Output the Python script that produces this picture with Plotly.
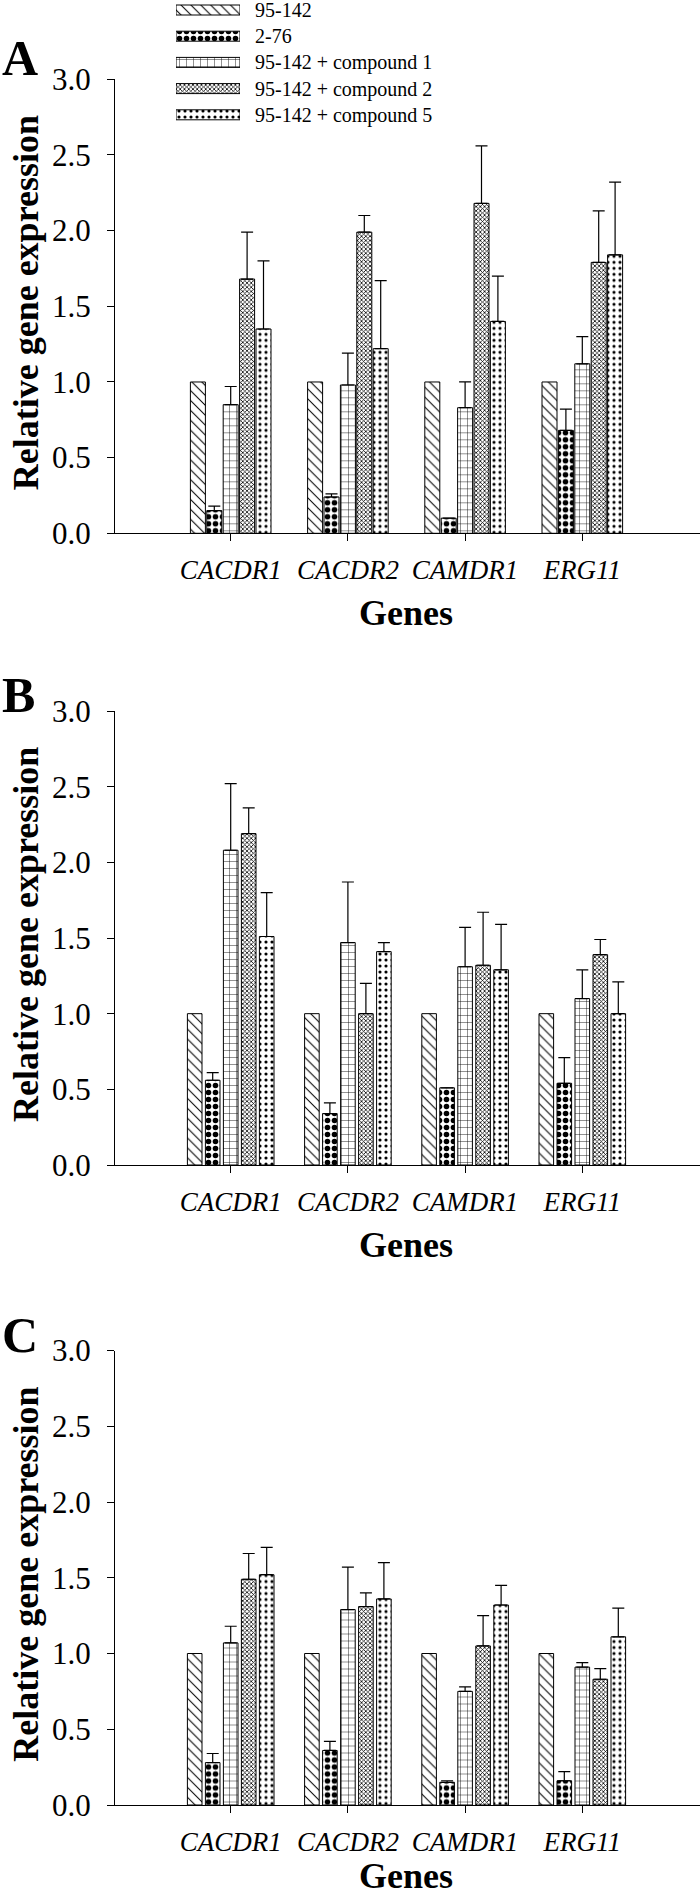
import plotly.graph_objects as go

# ---------------- data ----------------
genes = ["CACDR1", "CACDR2", "CAMDR1", "ERG11"]
series = ["95-142", "2-76", "95-142 + compound 1", "95-142 + compound 2", "95-142 + compound 5"]

# Panel A
A_95142 = [1.00, 1.00, 1.00, 1.00]
A_276 = [0.15, 0.24, 0.10, 0.68]
A_c1 = [0.85, 0.98, 0.83, 1.12]
A_c2 = [1.68, 1.99, 2.18, 1.79]
A_c5 = [1.35, 1.22, 1.40, 1.84]
A_err_276 = [0.03, 0.02, 0.00, 0.14]
A_err_c1 = [0.12, 0.21, 0.17, 0.18]
A_err_c2 = [0.31, 0.11, 0.38, 0.34]
A_err_c5 = [0.45, 0.45, 0.30, 0.48]

# Panel B
B_95142 = [1.00, 1.00, 1.00, 1.00]
B_276 = [0.56, 0.34, 0.51, 0.54]
B_c1 = [2.08, 1.47, 1.31, 1.10]
B_c2 = [2.19, 1.00, 1.32, 1.39]
B_c5 = [1.51, 1.41, 1.29, 1.00]
B_err_276 = [0.05, 0.07, 0.00, 0.17]
B_err_c1 = [0.44, 0.40, 0.26, 0.19]
B_err_c2 = [0.17, 0.20, 0.35, 0.10]
B_err_c5 = [0.29, 0.06, 0.30, 0.21]

# Panel C
C_95142 = [1.00, 1.00, 1.00, 1.00]
C_276 = [0.28, 0.36, 0.15, 0.16]
C_c1 = [1.07, 1.29, 0.75, 0.91]
C_c2 = [1.49, 1.31, 1.05, 0.83]
C_c5 = [1.52, 1.36, 1.32, 1.11]
C_err_276 = [0.06, 0.06, 0.01, 0.06]
C_err_c1 = [0.11, 0.28, 0.03, 0.03]
C_err_c2 = [0.17, 0.09, 0.20, 0.07]
C_err_c5 = [0.18, 0.24, 0.13, 0.19]

yticks = [0.0, 0.5, 1.0, 1.5, 2.0, 2.5, 3.0]

# ---------------- styling ----------------
W, H = 700, 1899
SERIF = "Liberation Serif"
patterns = [
    dict(shape="\\", size=7, solidity=0.15),
    dict(shape=".", size=7, solidity=0.5),
    dict(shape="+", size=7, solidity=0.12),
    dict(shape="x", size=3, solidity=0.45),
    dict(shape=".", size=6, solidity=0.22),
]

def py(px):
    return 1 - px / H

panels = [
    dict(name="A", vals=[A_95142, A_276, A_c1, A_c2, A_c5],
         errs=[None, A_err_276, A_err_c1, A_err_c2, A_err_c5],
         top=79.3, bot=533.3, pitch_px=16.4, bw_px=15.0, letter_drop=9, genes_drop=80),
    dict(name="B", vals=[B_95142, B_276, B_c1, B_c2, B_c5],
         errs=[None, B_err_276, B_err_c1, B_err_c2, B_err_c5],
         top=711.0, bot=1165.0, pitch_px=18.0, bw_px=14.6, letter_drop=14, genes_drop=80),
    dict(name="C", vals=[C_95142, C_276, C_c1, C_c2, C_c5],
         errs=[None, C_err_276, C_err_c1, C_err_c2, C_err_c5],
         top=1350.5, bot=1805.0, pitch_px=18.0, bw_px=14.6, letter_drop=14, genes_drop=71),
]

YAX_PX = 114.0        # y-axis line position
XAX_L_PX = 107.0      # x-axis line starts slightly left of the y-axis
CAT0_PX = 230.7       # first category centre
px_per_unit = 117.2
x_range = [-(CAT0_PX - XAX_L_PX) / px_per_unit, (W - CAT0_PX) / px_per_unit]

fig = go.Figure()
layout = dict(
    width=W, height=H, margin=dict(l=0, r=0, t=0, b=0, pad=0, autoexpand=False),
    paper_bgcolor="white", plot_bgcolor="white",
    barmode="overlay", showlegend=False,
    font=dict(family=SERIF, color="black"),
    annotations=[],
)

for k, p in enumerate(panels):
    sfx = "" if k == 0 else str(k + 1)
    xa, ya = "x" + sfx, "y" + sfx
    pitch = p["pitch_px"] / px_per_unit
    bw = p["bw_px"] / px_per_unit
    for i, (vals, errs) in enumerate(zip(p["vals"], p["errs"])):
        offset = -2.5 * pitch + i * pitch + (pitch - bw) / 2
        tr = dict(
            x=genes, y=vals, xaxis=xa, yaxis=ya, name=series[i],
            width=bw, offset=offset,
            marker=dict(color="white", line=dict(color="black", width=1),
                        pattern=dict(fgcolor="black", bgcolor="white",
                                     fillmode="replace", **patterns[i])),
        )
        if errs is not None:
            tr["error_y"] = dict(type="data", symmetric=False, array=errs,
                                 arrayminus=[0] * len(errs), color="black",
                                 thickness=1.2, width=6)
        fig.add_trace(go.Bar(**tr))
    layout["xaxis" + sfx] = dict(
        domain=[XAX_L_PX / W, 1], anchor=ya, range=x_range, type="category",
        tickvals=genes, ticktext=["<i>%s</i>" % g for g in genes],
        showline=True, linecolor="black", linewidth=1.2,
        ticks="outside", ticklen=7, tickcolor="black",
        tickfont=dict(family=SERIF, size=27, color="black"), ticklabelstandoff=5,
        showgrid=False, zeroline=False, automargin=False,
    )
    layout["yaxis" + sfx] = dict(
        domain=[py(p["bot"]), py(p["top"])], anchor="free", position=YAX_PX / W,
        range=[0, 3],
        tickvals=yticks, ticktext=["%.1f" % v for v in yticks],
        showline=True, linecolor="black", linewidth=1.2,
        ticks="outside", ticklen=7, tickcolor="black",
        tickfont=dict(family=SERIF, size=31, color="black"), ticklabelstandoff=10,
        showgrid=False, zeroline=False, automargin=False,
    )
    mid = (p["top"] + p["bot"]) / 2
    layout["annotations"] += [
        dict(text="<b>%s</b>" % p["name"], x=0.0, y=py(p["top"] + p["letter_drop"]),
             xref="paper", yref="paper",
             xanchor="left", yanchor="bottom", showarrow=False,
             font=dict(family=SERIF, size=50, color="black")),
        dict(text="<b>Relative gene expression</b>", x=26 / W, y=py(mid - 3), xref="paper", yref="paper",
             xanchor="center", yanchor="middle", textangle=-90, showarrow=False,
             font=dict(family=SERIF, size=36, color="black")),
        dict(text="<b>Genes</b>", x=406 / W, y=py(p["bot"] + p["genes_drop"]), xref="paper", yref="paper",
             xanchor="center", yanchor="middle", showarrow=False,
             font=dict(family=SERIF, size=36, color="black")),
    ]

# ---------------- legend (pattern swatches) ----------------
row0, row_step, sw_h = 10.0, 26.2, 10.0
leg_h = 130.0
top_u = -row0 / row_step
bot_u = top_u + leg_h / row_step
for i, s in enumerate(series):
    fig.add_trace(go.Bar(
        x=[1], y=[i], base=0, orientation="h", xaxis="x4", yaxis="y4",
        width=sw_h / row_step, name=s,
        marker=dict(color="white", line=dict(color="black", width=1),
                    pattern=dict(fgcolor="black", bgcolor="white",
                                 fillmode="replace", **patterns[i])),
    ))
layout["xaxis4"] = dict(domain=[176 / W, 240 / W], anchor="y4", range=[0, 1],
                        visible=False, fixedrange=True, automargin=False)
layout["yaxis4"] = dict(domain=[py(leg_h), 1], anchor="x4", range=[bot_u, top_u],
                        side="right", tickvals=list(range(len(series))), ticktext=series,
                        ticks="", showline=False, showgrid=False, zeroline=False,
                        tickfont=dict(family=SERIF, size=20, color="black"),
                        ticklabelstandoff=14, ticklabeloverflow="allow", automargin=False)

fig.update_layout(**layout)
fig.write_html("out.html", config={"displayModeBar": False},
               post_script="document.body.style.margin='0px';")
